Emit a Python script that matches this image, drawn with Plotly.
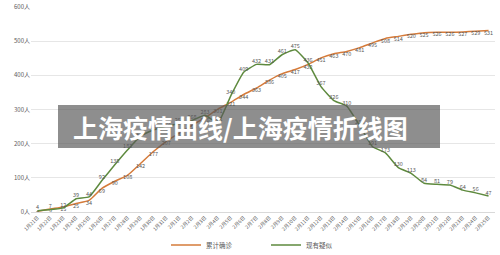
import plotly.graph_objects as go

dates = ["1月%d日" % d for d in range(21, 32)] + ["2月%d日" % d for d in range(1, 26)]
confirmed = [2, 9, 15, 25, 34, 69, 90, 108, 142, 177, 207, 231, 254, 276, 301, 321, 344, 363,
             386, 405, 417, 432, 451, 463, 470, 481, 495, 508, 514, 520, 525, 526, 526, 527, 529, 531]
suspected = [4, 7, 12, 39, 44, 92, 138, 182, 222, 240, 252, 258, 268, 283, 261, 340, 409, 432,
             431, 461, 475, 436, 367, 326, 310, 253, 191, 173, 130, 113, 84, 81, 79, 64, 56, 47]
series_names = ["累计确诊", "现有疑似"]
title_text = "上海疫情曲线/上海疫情折线图"

W, H = 500, 255
L, R, T, B = 31, 5, 7, 43
FONT = "Noto Sans CJK SC"

fig = go.Figure()
fig.add_trace(go.Scatter(
    x=dates, y=confirmed, name=series_names[0], mode="lines+text",
    line=dict(color="#D57B3A", width=1.5, shape="spline", smoothing=0.6),
    text=[str(v) for v in confirmed], textposition="bottom center",
    textfont=dict(size=5.5, color="#595959", family=FONT),
))
fig.add_trace(go.Scatter(
    x=dates, y=suspected, name=series_names[1], mode="lines+text",
    line=dict(color="#5E8A3E", width=1.5, shape="spline", smoothing=0.4),
    text=[str(v) for v in suspected], textposition="top center",
    textfont=dict(size=5.5, color="#595959", family=FONT),
))

pw = W - L - R
ph = H - T - B
def px(x):
    return (x - L) / pw
def py(y):
    return (H - B - y) / ph

fig.add_shape(type="rect", xref="paper", yref="paper",
              x0=px(58), x1=px(440), y0=py(148), y1=py(105),
              fillcolor="rgba(88,88,88,0.68)", line=dict(width=0), layer="above")
fig.add_annotation(text="<b>" + title_text + "</b>", xref="paper", yref="paper",
                   x=px(240), y=py(127), xanchor="center", yanchor="middle",
                   showarrow=False, font=dict(size=25, color="white", family=FONT))

fig.update_layout(
    width=W, height=H, margin=dict(l=L, r=R, t=T, b=B, autoexpand=False),
    paper_bgcolor="white", plot_bgcolor="white",
    font=dict(family=FONT, color="#595959"),
    showlegend=True,
    legend=dict(orientation="h", x=px(166), xanchor="left", y=py(245), yanchor="middle",
                font=dict(size=6.5, color="#595959"), itemwidth=30,
                entrywidthmode="pixels", entrywidth=55),
)
fig.update_xaxes(type="category", tickangle=-45, tickfont=dict(size=5, color="#595959"),
                 showgrid=False, showline=True, linecolor="#D9D9D9", ticks="",
                 range=[-0.5, 35.5], automargin=False)
fig.update_yaxes(range=[0, 600], dtick=100, ticksuffix="人", tickfont=dict(size=6, color="#595959"),
                 showgrid=True, gridcolor="#E6E6E6", zeroline=False, showline=False, ticks="",
                 automargin=False)

fig.write_html("out.html")
